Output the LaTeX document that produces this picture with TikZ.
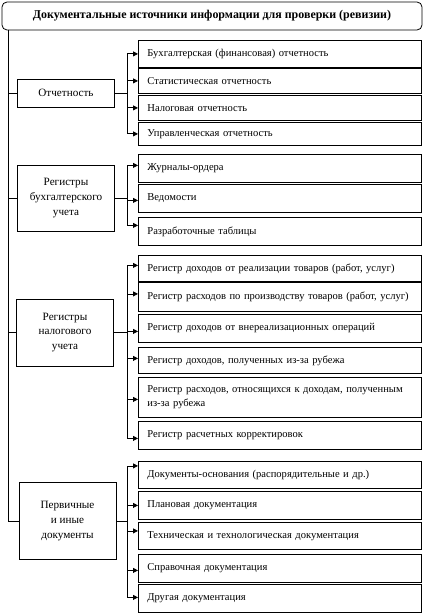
\documentclass[tikz,border=0pt]{standalone}
\usepackage{fontspec}
\setmainfont{Liberation Serif}
\usetikzlibrary{arrows.meta}

\begin{document}
\begin{tikzpicture}[x=1bp, y=-1bp, line width=0.8pt,
  titlebox/.style={draw, rounded corners=5bp, minimum width=420bp, minimum height=28bp, font=\bfseries\fontsize{12}{14}\selectfont},
  groupbox/.style={draw, align=center, minimum width=97bp, inner sep=2bp, font=\fontsize{11.2}{15}\selectfont},
  itembox/.style={draw, anchor=north west, minimum width=283bp, text width=265bp, inner xsep=9bp, inner ysep=2bp, align=left, font=\fontsize{10.6}{14}\selectfont},
  feed/.style={-{Triangle[length=5bp, width=5bp]}}
]
\useasboundingbox (0,0) rectangle (424,613);

% Title
\node[titlebox] (title) at (212,16) {Документальные источники информации для проверки (ревизии)};

% Source groups
\node[groupbox, minimum height=28bp] (rep) at (66,93) {Отчетность};
\node[groupbox, minimum height=66bp] (buh) at (66,198) {Регистры\\бухгалтерского\\учета};
\node[groupbox, minimum height=67bp] (tax) at (65,332.5) {Регистры\\налогового\\учета};
\node[groupbox, minimum height=77bp] (prim) at (67.5,521) {Первичные\\и иные\\документы};

% Trunk from the title
\coordinate (trunk) at (8,30);
\coordinate (bus) at (127,0);
\draw (trunk) |- (prim.west);
\foreach \g in {rep,buh,tax}
  \draw (trunk |- \g.west) -- (\g.west);

% Reporting
\foreach \id/\ytop/\h/\off/\txt in {
  r1/40/27/0/{Бухгалтерская (финансовая) отчетность},
  r2/68/25/0/{Статистическая отчетность},
  r3/95/25/0/{Налоговая отчетность},
  r4/122/23/0/{Управленческая отчетность}} {
  \node[itembox, minimum height=\h bp] (\id) at (138,\ytop) {\txt};
  \draw[feed] (rep.east) -- (rep.east -| bus) |- ([yshift=\off bp]\id.west);
}

% Accounting registers
\foreach \id/\ytop/\h/\off/\txt in {
  b1/154/28/3/{Журналы-ордера},
  b2/184/28/-2/{Ведомости},
  b3/217/28/6/{Разработочные таблицы}} {
  \node[itembox, minimum height=\h bp] (\id) at (138,\ytop) {\txt};
  \draw[feed] (buh.east) -- (buh.east -| bus) |- ([yshift=\off bp]\id.west);
}

% Tax registers
\foreach \id/\ytop/\h/\off/\txt in {
  t1/255/26/3/{Регистр доходов от реализации товаров (работ, услуг)},
  t2/282/29/3/{Регистр расходов по производству товаров (работ, услуг)},
  t3/314/28/-3/{Регистр доходов от внереализационных операций},
  t4/347/26/2/{Регистр доходов, полученных из-за рубежа},
  t5/377/40/-2/{Регистр расходов, относящихся к доходам, полученным\\из-за рубежа},
  t6/421/28/-3/{Регистр расчетных корректировок}} {
  \node[itembox, minimum height=\h bp] (\id) at (138,\ytop) {\txt};
  \draw[feed] (tax.east) -- (tax.east -| bus) |- ([yshift=\off bp]\id.west);
}

% Primary and other documents
\foreach \id/\ytop/\h/\off/\txt in {
  p1/461/27/9/{Документы-основания (распорядительные и др.)},
  p2/491/28/0/{Плановая документация},
  p3/522/27/5/{Техническая и технологическая документация},
  p4/554/28/-2/{Справочная документация},
  p5/584/28/1/{Другая документация}} {
  \node[itembox, minimum height=\h bp] (\id) at (138,\ytop) {\txt};
  \draw[feed] (prim.east) -- (prim.east -| bus) |- ([yshift=\off bp]\id.west);
}

\end{tikzpicture}
\end{document}
